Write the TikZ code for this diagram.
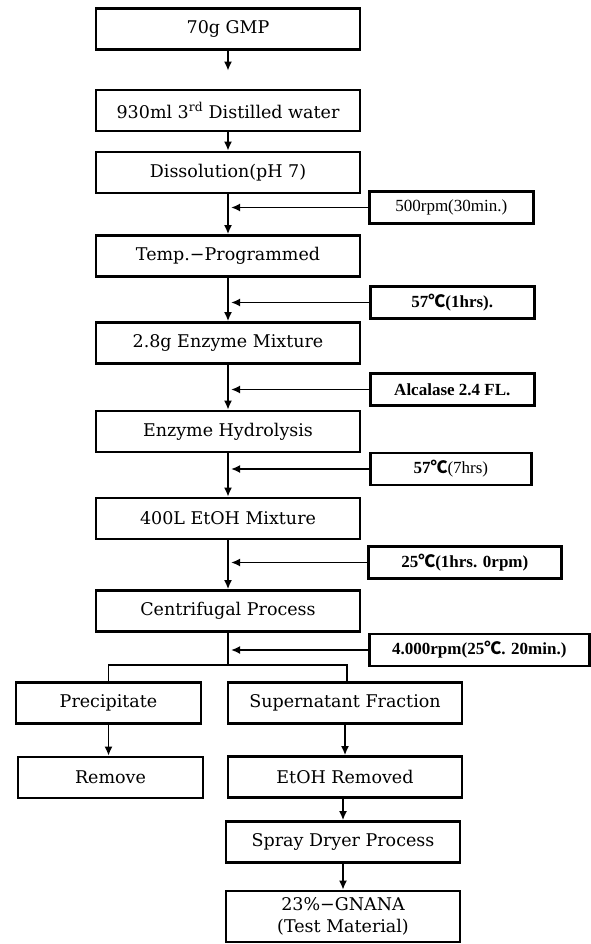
\documentclass[tikz,border=0pt]{standalone}
\usepackage{fontspec}
\setmainfont{DejaVu Serif}
\newfontfamily\sidefont{Liberation Serif}
\newfontfamily\cjk{Noto Sans CJK KR}
\newcommand{\degC}{{\cjk ℃}}
\usetikzlibrary{arrows.meta}

\tikzset{
  stepbox/.style={draw, line width=2.6pt, minimum width=264pt, minimum height=41pt,
    inner sep=0pt, font=\fontsize{17.5}{22}\selectfont},
  condbox/.style={draw, line width=2.6pt, minimum height=32pt, inner sep=0pt,
    anchor=west, font=\sidefont\fontsize{17}{20}\selectfont},
  flow/.style={line width=1.8pt, ->, >={Latex[length=9pt,width=8pt]}},
  feed/.style={flow, shorten >=3pt},
  link/.style={line width=1.8pt},
}

\begin{document}
\begin{tikzpicture}[x=1pt, y=-1pt]
     \useasboundingbox (0,0) rectangle (591,944);

     % main line
     \node[stepbox] (gmp) at (228,29) {70g GMP};
     \node[stepbox] (water) at (228,110.5) {930ml 3\textsuperscript{rd} Distilled water};
     \node[stepbox] (dissol) at (228,172.5) {Dissolution(pH 7)};
     \node[stepbox] (temp) at (228,256) {Temp.−Programmed};
     \node[stepbox] (enzmix) at (228,343) {2.8g Enzyme Mixture};
     \node[stepbox] (hydro) at (228,431.5) {Enzyme Hydrolysis};
     \node[stepbox] (etoh) at (228,518.5) {400L EtOH Mixture};
     \node[stepbox] (centri) at (228,611) {Centrifugal Process};

     % conditions
     \node[condbox, minimum width=164pt] (cond1) at (368,207.5) {500rpm(30min.)};
     \node[condbox, minimum width=164pt] (cond2) at (369,302.5) {\textbf{57\degC(1hrs).}};
     \node[condbox, minimum width=164pt] (cond3) at (369,389.5) {\textbf{Alcalase 2.4 FL.}};
     \node[condbox, minimum width=161pt] (cond4) at (369,469) {\textbf{57\degC}(7hrs)};
     \node[condbox, minimum width=193pt] (cond5) at (367,562.5) {\textbf{25\degC(1hrs. 0rpm)}};
     \node[condbox, minimum width=220pt] (cond6) at (368,650) {\textbf{4.000rpm(25\degC. 20min.)}};

     % separation
     \node[stepbox, minimum width=185pt] (precip) at (108.5,703) {Precipitate};
     \node[stepbox, minimum width=185pt] (remove) at (110.5,777.5) {Remove};
     \node[stepbox, minimum width=234pt] (super) at (345,703) {Supernatant Fraction};
     \node[stepbox, minimum width=234pt] (etohrm) at (345,777) {EtOH Removed};
     \node[stepbox, minimum width=234pt] (spray) at (343,842) {Spray Dryer Process};
     \node[stepbox, minimum width=234pt, minimum height=51pt, align=center] (gnana) at (343,916.5)
          {23\%−GNANA\\(Test Material)};

     \draw[flow] (gmp) -- ([yshift=18pt]water.north);
     \foreach \a/\b in {water/dissol, dissol/temp, temp/enzmix, enzmix/hydro, hydro/etoh, etoh/centri}
          \draw[flow] (\a) -- (\b);
     \foreach \c/\m in {cond1/dissol, cond2/temp, cond3/enzmix, cond4/hydro, cond5/etoh, cond6/centri}
          \draw[feed] (\c.west) -- (\c.west -| \m.south);

     \coordinate (split) at (228,665);
     \draw[link] (centri.south) -- (split);
     \draw[link] (precip.north) |- (split) -| ([xshift=2pt]super.north);

     \draw[flow] (precip.south) -- (precip.south |- remove.north);
     \draw[flow] (super.south) -- (super.south |- etohrm.north);
     \draw[flow] (etohrm.south -| spray.north) -- (spray.north);
     \draw[flow] (spray.south) -- (gnana.north);
\end{tikzpicture}
\end{document}
